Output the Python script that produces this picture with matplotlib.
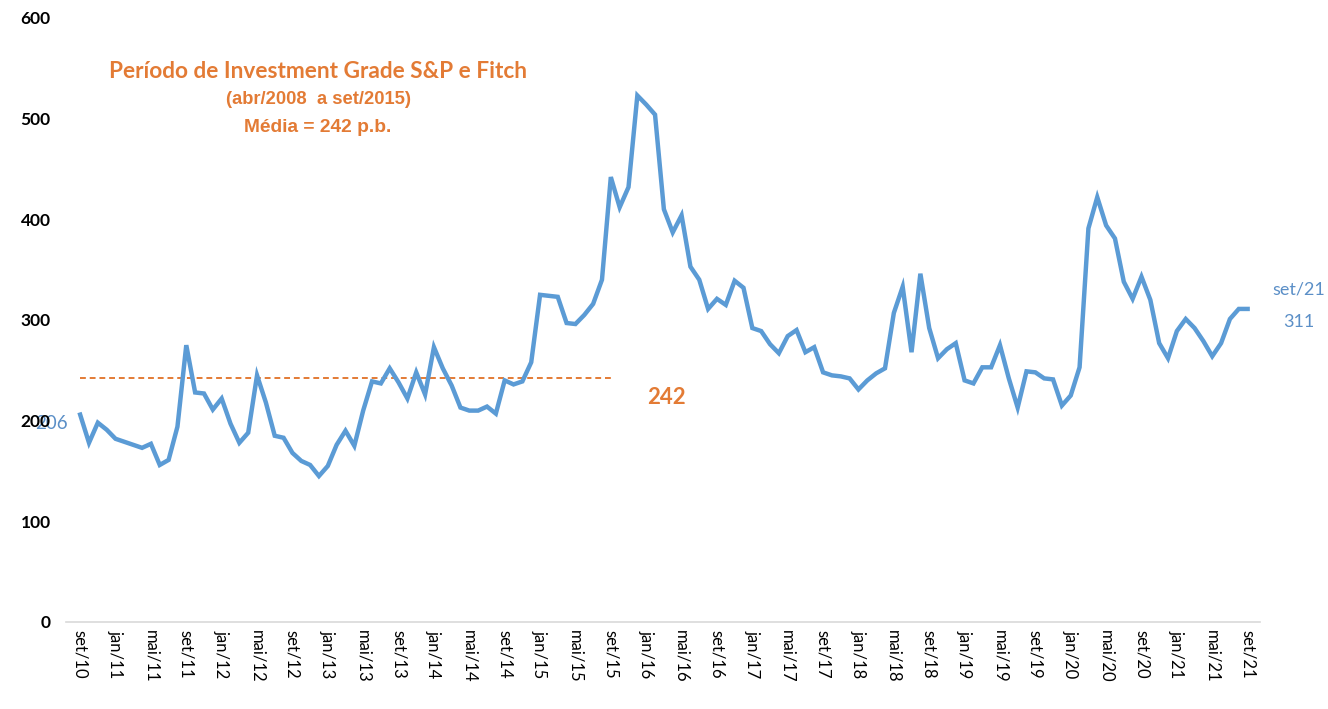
import matplotlib
matplotlib.use("Agg")
import matplotlib.pyplot as plt
import numpy as np

# Monthly spread (p.b.), set/2010 .. set/2021
spread = [
    206, 178, 198, 191, 182, 179, 176, 173, 177, 156, 161, 194,  # set/10 - ago/11
    275, 228, 227, 211, 222, 197, 178, 188, 245, 218, 185, 183,  # set/11 - ago/12
    168, 160, 156, 145, 155, 176, 190, 175, 210, 239, 237, 252,  # set/12 - ago/13
    238, 222, 248, 226, 273, 252, 235, 213, 210, 210, 214, 207,  # set/13 - ago/14
    240, 236, 239, 258, 325, 324, 323, 297, 296, 305, 316, 340,  # set/14 - ago/15
    442, 412, 432, 523, 514, 504, 410, 387, 404, 353, 340, 311,  # set/15 - ago/16
    321, 315, 339, 332, 292, 289, 276, 267, 284, 290, 268, 273,  # set/16 - ago/17
    248, 245, 244, 242, 231, 240, 247, 252, 307, 333, 268, 346,  # set/17 - ago/18
    292, 262, 271, 277, 240, 237, 253, 253, 275, 242, 213, 249,  # set/18 - ago/19
    248, 242, 241, 215, 225, 253, 391, 422, 394, 381, 338, 321,  # set/19 - ago/20
    343, 320, 277, 262, 289, 301, 292, 279, 264, 277, 301, 311,  # set/20 - ago/21
    311,                                                          # set/21
]

month_names = ["jan", "fev", "mar", "abr", "mai", "jun",
               "jul", "ago", "set", "out", "nov", "dez"]
start_year, start_month = 2010, 9

ig_average = 242          # média do período investment grade
ig_end_index = 60         # set/15
tick_step = 4

annotation_title = "Período de Investment Grade S&P e Fitch"
annotation_sub1 = "(abr/2008  a set/2015)"
annotation_sub2 = "Média = 242 p.b."

blue = "#5B9BD5"
label_blue = "#5B8FC7"
orange = "#E37B35"
sans = ["Lato", "DejaVu Sans"]
narrow = ["Liberation Sans Narrow", "Liberation Sans", "DejaVu Sans"]

n = len(spread)
x = np.arange(n)
labels = []
for i in range(n):
    m = (start_month - 1 + i) % 12
    y = start_year + (start_month - 1 + i) // 12
    labels.append(f"{month_names[m]}/{y % 100:02d}")

fig = plt.figure(figsize=(13.28, 7.09), dpi=100)
ax = fig.add_axes([66 / 1328, 1 - 622 / 709, (1260 - 66) / 1328, (622 - 18) / 709])

ax.plot(x, spread, color=blue, linewidth=3.2, solid_joinstyle="miter", zorder=3)
ax.plot([0, ig_end_index], [ig_average, ig_average], color=orange,
        linewidth=1.4, linestyle=(0, (3, 2)), zorder=2)

ax.set_xlim(-1.6, n - 1 + 1.4)
ax.set_ylim(0, 600)
ax.set_yticks(range(0, 601, 100))
ax.set_yticklabels([str(v) for v in range(0, 601, 100)],
                   fontsize=12.5, fontweight="bold", family=sans)
tick_idx = list(range(0, n, tick_step))
ax.set_xticks(tick_idx)
ax.set_xticklabels([labels[i] for i in tick_idx], rotation=-90,
                   fontsize=12, family=sans)

for side in ["top", "right", "left"]:
    ax.spines[side].set_visible(False)
ax.spines["bottom"].set_color("#D9D9D9")
ax.spines["bottom"].set_linewidth(1.2)
ax.tick_params(axis="both", length=0)
ax.tick_params(axis="y", pad=11)
ax.tick_params(axis="x", pad=6)

# Start / end value labels
ax.text(-3.2, spread[0] - 9, str(spread[0]), color=label_blue, fontsize=13.5,
        ha="center", va="center", family=sans, zorder=1, clip_on=False)
ax.text(n - 1 + 5.8, spread[-1] + 19, labels[-1], color=label_blue, fontsize=13,
        ha="center", va="center", family=sans, clip_on=False)
ax.text(n - 1 + 5.8, spread[-1] - 13, str(spread[-1]), color=label_blue, fontsize=13,
        ha="center", va="center", family=sans, clip_on=False)

# Investment-grade average
ax.text(ig_end_index + 6.3, ig_average - 19, str(ig_average), color=orange,
        fontsize=16, fontweight="bold", ha="center", va="center", family=sans)

title_x = (318 - 66) / (1260 - 66)
ax.text(title_x, 1 - (72 - 18) / 604, annotation_title, transform=ax.transAxes,
        color=orange, fontsize=16.3, fontweight="bold", ha="center", va="center",
        family=sans)
ax.text(title_x, 1 - (100 - 18) / 604, annotation_sub1, transform=ax.transAxes,
        color=orange, fontsize=13.2, fontweight="bold", ha="center", va="center",
        family=narrow)
ax.text(title_x, 1 - (128 - 18) / 604, annotation_sub2, transform=ax.transAxes,
        color=orange, fontsize=13.8, fontweight="bold", ha="center", va="center",
        family=narrow)

# y tick labels drawn over the start label
for lbl in ax.get_yticklabels():
    lbl.set_zorder(5)

fig.savefig("out.png", dpi=100, facecolor="white")
